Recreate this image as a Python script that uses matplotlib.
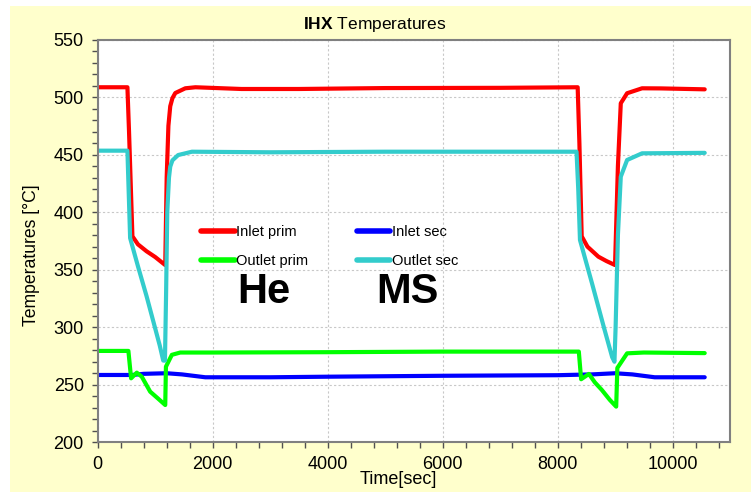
import matplotlib as mpl
mpl.use('Agg')
import matplotlib.pyplot as plt
from matplotlib.patches import Rectangle
from matplotlib.ticker import MultipleLocator

plt.rcParams['font.family'] = ['Liberation Sans', 'DejaVu Sans']
plt.rcParams['mathtext.fontset'] = 'custom'
plt.rcParams['mathtext.bf'] = 'Liberation Sans:bold'
plt.rcParams['mathtext.rm'] = 'Liberation Sans'

# (time in s, temperature in degC)
t_in_prim = [0, 517, 545, 604, 700, 850, 1000, 1100, 1175, 1200, 1230, 1262,
             1300, 1350, 1524, 1700, 2500, 3500, 5000, 7000, 8350, 8380,
             8420, 8520, 8710, 8850, 9000, 9050, 9100, 9210, 9470, 9800, 10560]
T_in_prim = [508.5, 508.5, 470, 379, 372, 366, 361, 357, 354, 430, 475, 492,
             499, 503.5, 507.6, 508.5, 507, 507, 507.8, 508, 508.5, 460,
             379, 370, 361.3, 357.5, 354, 440, 494.6, 503.3, 507.6, 507.5, 506.7]

t_out_sec = [0, 517, 564, 700, 850, 1000, 1080, 1140, 1170, 1190, 1210, 1240,
             1262, 1300, 1400, 1640, 3000, 5000, 8330, 8360, 8390, 8600, 8800,
             8950, 8990, 9010, 9050, 9100, 9210, 9470, 10560]
T_out_sec = [453.4, 453.4, 377.5, 353, 327, 299, 284, 271, 271, 330, 400, 430,
             439.5, 445, 449.6, 452.5, 452, 452.5, 452.5, 420, 375.8, 338, 301,
             274, 270, 300, 380, 430.8, 445.3, 451.1, 451.5]

t_out_prim = [0, 534, 581, 680, 767, 913, 1050, 1175, 1187, 1290, 1436, 2000,
              4000, 6000, 8370, 8410, 8545, 8650, 8770, 8910, 9020, 9040,
              9210, 9500, 10560]
T_out_prim = [279.4, 279.4, 255.6, 260.5, 257, 244, 238, 232.4, 265.7, 276, 278,
              278, 278.3, 278.8, 278.8, 254.8, 259.4, 252, 245.5, 236.8, 231, 264.6,
              277.3, 278, 277.5]

t_in_sec = [0, 600, 800, 1200, 1466, 1872, 3000, 4000, 6000, 8000, 8600, 9000,
            9300, 9690, 10560]
T_in_sec = [258.5, 258.5, 259.5, 260, 259, 256.5, 256.5, 257, 257.8, 258.3, 259,
            260, 259, 256.5, 256.5]

series = [
    (t_in_prim, T_in_prim, 'Inlet prim', '#ff0000'),
    (t_in_sec, T_in_sec, 'Inlet sec', '#0000ff'),
    (t_out_prim, T_out_prim, 'Outlet prim', '#00ff00'),
    (t_out_sec, T_out_sec, 'Outlet sec', '#33cccc'),
]
legend_order = ['Inlet prim', 'Outlet prim', 'Inlet sec', 'Outlet sec']

fig = plt.figure(figsize=(7.51, 4.92), dpi=100)
fig.patch.set_facecolor('white')
fig.patches.append(Rectangle((10/751, 0), 1, 1 - 6/492, transform=fig.transFigure,
                             facecolor='#ffffcc', edgecolor='none', zorder=-10))

ax = fig.add_axes([97.7/751, 1 - 442.3/492, (730 - 97.7)/751, (442.3 - 39.5)/492])
ax.set_facecolor('white')

lines = {}
for t, T, lab, col in series:
    lines[lab], = ax.plot(t, T, color=col, lw=3, label=lab, solid_capstyle='round',
                          solid_joinstyle='round')

ax.set_xlim(0, 11000)
ax.set_ylim(200, 550)
ax.xaxis.set_major_locator(MultipleLocator(2000))
ax.xaxis.set_minor_locator(MultipleLocator(400))
ax.yaxis.set_major_locator(MultipleLocator(50))
ax.yaxis.set_minor_locator(MultipleLocator(10))
ax.grid(which='major', color='#c8c8c8', ls=(0, (2, 2)), lw=0.8)
ax.tick_params(which='both', direction='out', length=4, width=1, color='#505050',
               labelsize=13, pad=6)
for s in ax.spines.values():
    s.set_color('#808080')
    s.set_linewidth(1.5)

# white box behind the legend
ax.add_patch(Rectangle((175/751, 1 - 272/492), 317/751, 57/492,
                       transform=fig.transFigure, facecolor='white',
                       edgecolor='none', zorder=1))

leg = ax.legend([lines[k] for k in legend_order], legend_order,
                ncol=2, loc='upper left', bbox_to_anchor=(194/751, 1 - 218/492),
                bbox_transform=fig.transFigure, frameon=False,
                fontsize=10.5, handlelength=2.3, handletextpad=0.1,
                columnspacing=3.3, labelspacing=1.0, borderpad=0.5,
                borderaxespad=0)
plt.setp(leg.get_lines(), linewidth=4)

ax.text(264/751, 1 - 292/492, 'He', transform=fig.transFigure, fontsize=30,
        fontweight='bold', ha='center', va='center', zorder=6)
ax.text(407/751, 1 - 292/492, 'MS', transform=fig.transFigure, fontsize=30,
        fontweight='bold', ha='center', va='center', zorder=6)

fig.text(375/751, 1 - 25/492, r'$\mathbf{IHX}$ Temperatures', fontsize=12.5,
         ha='center', va='center')
fig.text(398/751, 1 - 479/492, 'Time[sec]', fontsize=13, ha='center', va='center')
fig.text(32/751, 1 - 255/492, 'Temperatures [°C]', fontsize=12.7, rotation=90,
         ha='center', va='center')

fig.savefig('out.png', dpi=100)
